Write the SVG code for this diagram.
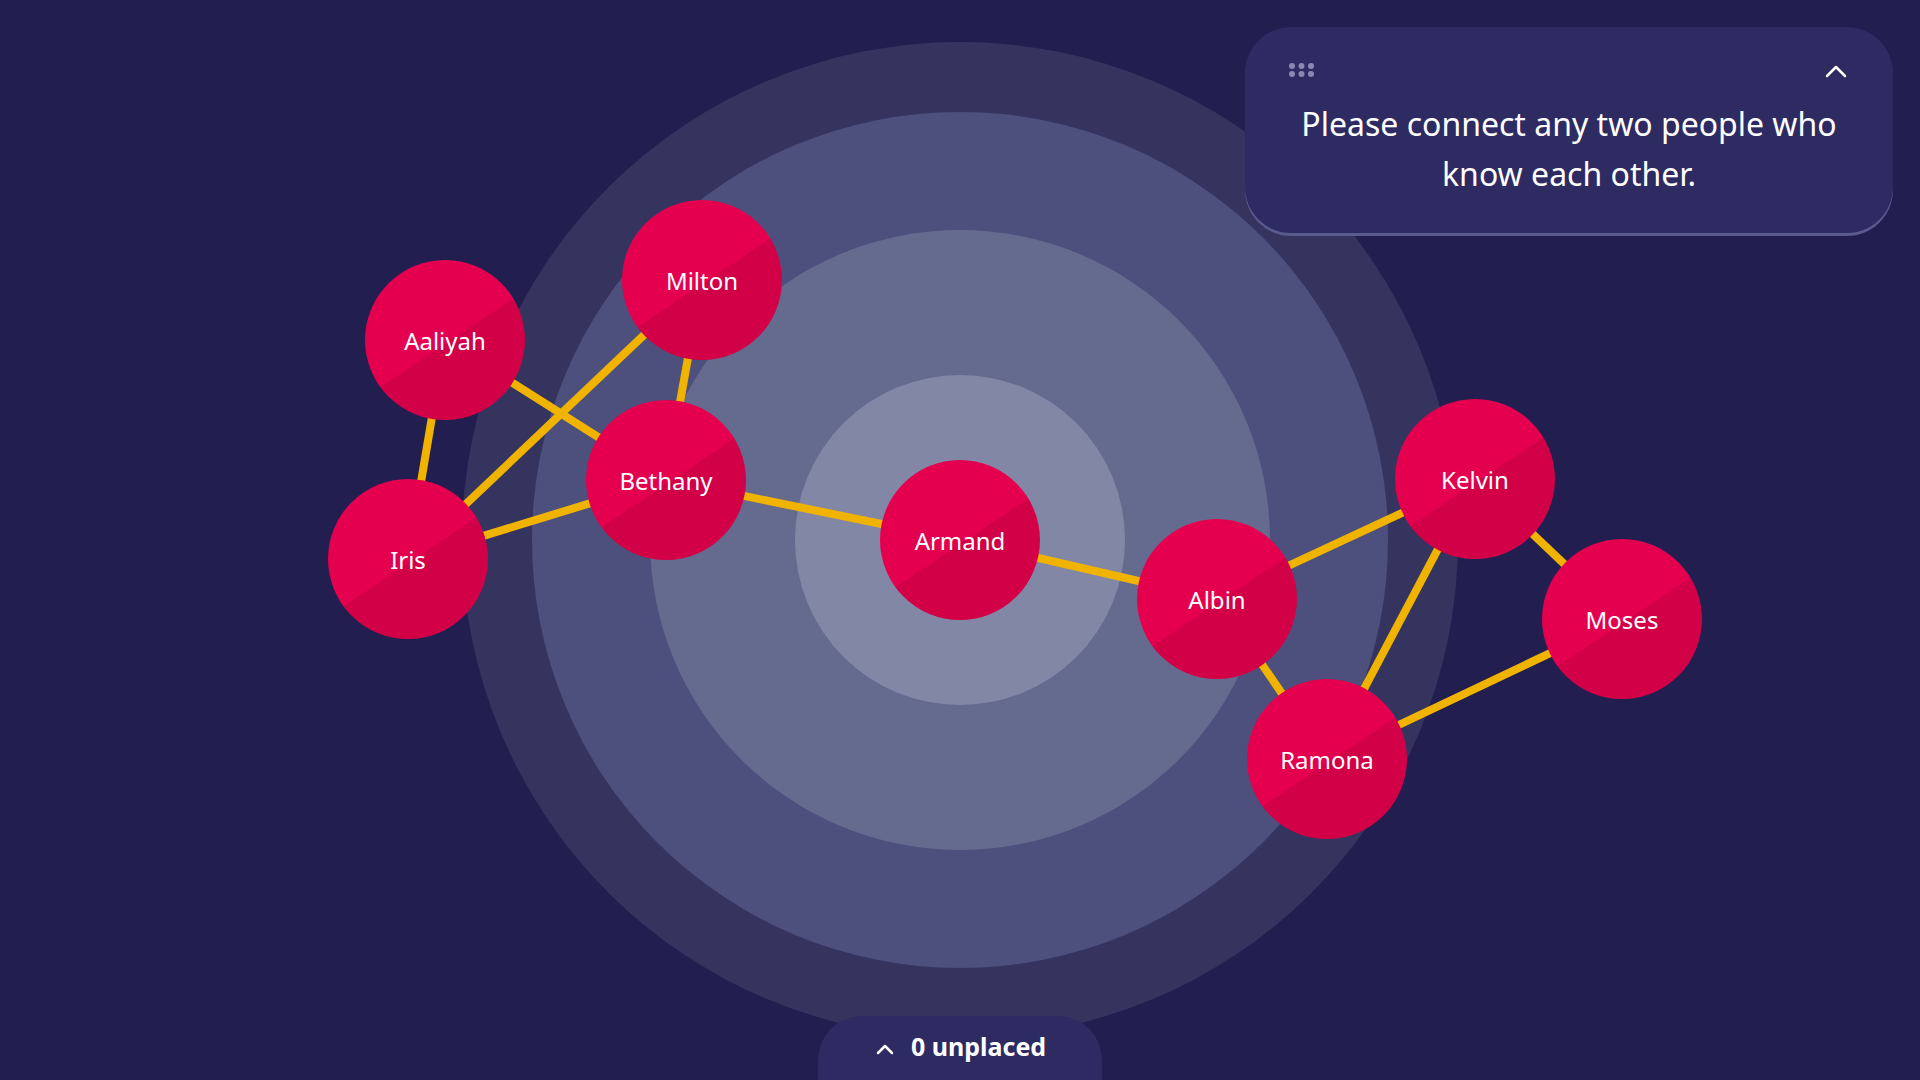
<svg xmlns="http://www.w3.org/2000/svg" width="1920" height="1080" viewBox="0 0 1920 1080">
  <style>
    .edge { stroke: #f0b400; stroke-width: 8; stroke-linecap: butt; }
    .node circle { fill: url(#nodeGrad); }
    .node text { fill: #ffffff; font-family: "Noto Sans", "Lato", sans-serif; font-size: 24px; font-weight: 400; text-anchor: middle; dominant-baseline: central; }
    .panelText { fill: #ffffff; font-family: "Noto Sans", "Lato", sans-serif; font-size: 32px; text-anchor: middle; }
    .pillText { fill: #ffffff; font-family: "Noto Sans", "Lato", sans-serif; font-size: 25px; font-weight: 700; }
    .chev { fill: none; stroke: #ffffff; stroke-width: 2.5; stroke-linecap: round; stroke-linejoin: round; }
  </style>
  <defs>
    <linearGradient id="nodeGrad" x1="0.22" y1="0.08" x2="0.78" y2="0.92">
      <stop offset="0" stop-color="#e5004f"/>
      <stop offset="0.52" stop-color="#e5004f"/>
      <stop offset="0.52" stop-color="#d10047"/>
      <stop offset="1" stop-color="#d10047"/>
    </linearGradient>
  </defs>

  <rect x="0" y="0" width="1920" height="1080" fill="#221e50"/>

  <g id="rings">
    <circle cx="960" cy="540" r="498" fill="#35345f"/>
    <circle cx="960" cy="540" r="428" fill="#4d4f7d"/>
    <circle cx="960" cy="540" r="310" fill="#656a8f"/>
    <circle cx="960" cy="540" r="165" fill="#8387a6"/>
  </g>

  <g id="connectors">
    <line class="edge" x1="445" y1="340" x2="408" y2="559"/>
    <line class="edge" x1="445" y1="340" x2="666" y2="480"/>
    <line class="edge" x1="408" y1="559" x2="702" y2="280"/>
    <line class="edge" x1="408" y1="559" x2="666" y2="480"/>
    <line class="edge" x1="702" y1="280" x2="666" y2="480"/>
    <line class="edge" x1="666" y1="480" x2="960" y2="540"/>
    <line class="edge" x1="960" y1="540" x2="1217" y2="599"/>
    <line class="edge" x1="1217" y1="599" x2="1475" y2="479"/>
    <line class="edge" x1="1217" y1="599" x2="1327" y2="759"/>
    <line class="edge" x1="1475" y1="479" x2="1327" y2="759"/>
    <line class="edge" x1="1475" y1="479" x2="1622" y2="619"/>
    <line class="edge" x1="1622" y1="619" x2="1327" y2="759"/>
  </g>

  <g id="node-aaliyah" class="node"><circle cx="445" cy="340" r="80"/><text x="445" y="340">Aaliyah</text></g>
  <g id="node-milton" class="node"><circle cx="702" cy="280" r="80"/><text x="702" y="280">Milton</text></g>
  <g id="node-bethany" class="node"><circle cx="666" cy="480" r="80"/><text x="666" y="480">Bethany</text></g>
  <g id="node-iris" class="node"><circle cx="408" cy="559" r="80"/><text x="408" y="559">Iris</text></g>
  <g id="node-armand" class="node"><circle cx="960" cy="540" r="80"/><text x="960" y="540">Armand</text></g>
  <g id="node-albin" class="node"><circle cx="1217" cy="599" r="80"/><text x="1217" y="599">Albin</text></g>
  <g id="node-kelvin" class="node"><circle cx="1475" cy="479" r="80"/><text x="1475" y="479">Kelvin</text></g>
  <g id="node-moses" class="node"><circle cx="1622" cy="619" r="80"/><text x="1622" y="619">Moses</text></g>
  <g id="node-ramona" class="node"><circle cx="1327" cy="759" r="80"/><text x="1327" y="759">Ramona</text></g>

  <g id="panel">
    <rect x="1245" y="30" width="648" height="206" rx="46" fill="#595a8e"/>
    <rect x="1245" y="27" width="648" height="206" rx="46" fill="#2e2a62"/>
    <g fill="#8a88b2">
      <circle cx="1292" cy="66" r="3"/><circle cx="1301.5" cy="66" r="3"/><circle cx="1311" cy="66" r="3"/>
      <circle cx="1292" cy="74" r="3"/><circle cx="1301.5" cy="74" r="3"/><circle cx="1311" cy="74" r="3"/>
    </g>
    <polyline class="chev" points="1827,76 1836,67 1845,76"/>
    <text class="panelText" x="1569" y="136">Please connect any two people who</text>
    <text class="panelText" x="1569" y="186">know each other.</text>
  </g>

  <g id="unplaced">
    <rect x="818" y="1016" width="284" height="110" rx="44" fill="#2e2a62"/>
    <polyline class="chev" points="878,1053 885,1046 892,1053"/>
    <text class="pillText" x="911" y="1056">0 unplaced</text>
  </g>
</svg>
